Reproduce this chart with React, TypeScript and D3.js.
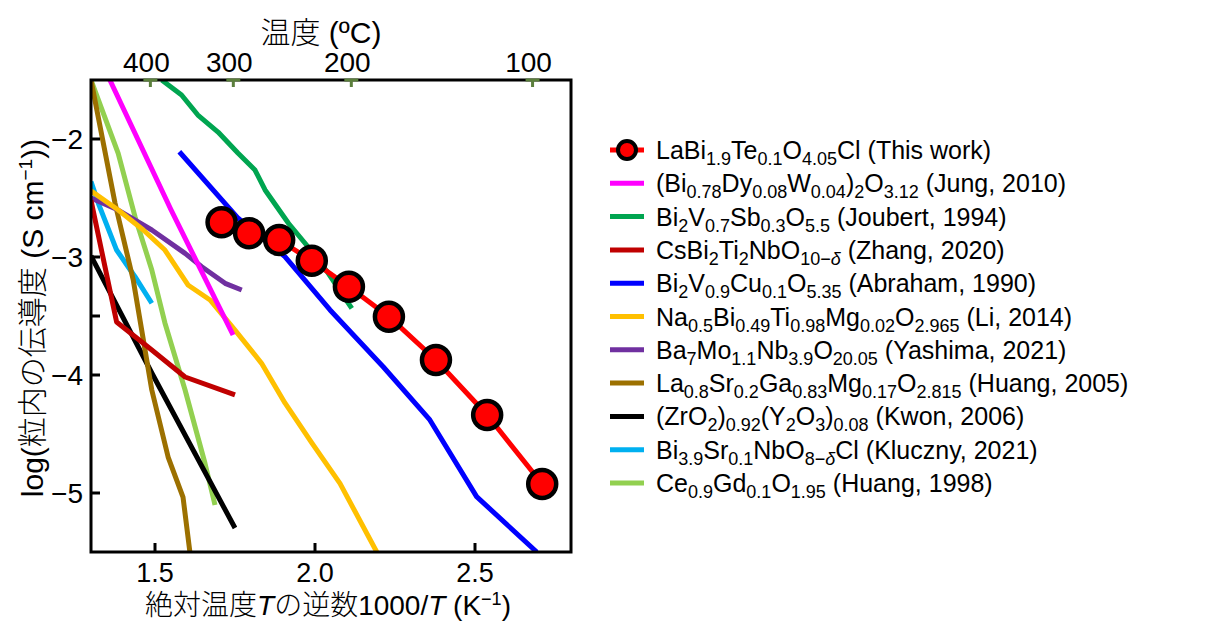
import React from "react";
import * as d3 from "d3";

// ---- data (x = 1000/T in K^-1, y = log conductivity) ----
const thisWorkX = [1.708, 1.794, 1.888, 1.990, 2.106, 2.231, 2.378, 2.538, 2.710];
const thisWorkY = [-2.706, -2.799, -2.856, -3.031, -3.252, -3.506, -3.873, -4.339, -4.924];

const jungX = [1.359, 1.55, 1.744];
const jungY = [-1.5, -2.6, -3.661];

const joubertX = [1.521, 1.583, 1.634, 1.697, 1.759, 1.8125, 1.844, 1.917, 1.978, 2.041, 2.115];
const joubertY = [-1.5, -1.627, -1.797, -1.941, -2.119, -2.263, -2.432, -2.714, -2.913, -3.136, -3.435];

const zhangX = [1.3, 1.38, 1.49, 1.594, 1.75];
const zhangY = [-2.52, -3.551, -3.788, -4.017, -4.169];

const abrahamX = [1.576, 1.76, 1.906, 2.047, 2.213, 2.359, 2.505, 2.693];
const abrahamY = [-2.108, -2.672, -2.997, -3.449, -3.93, -4.381, -5.031, -5.5];

const liX = [1.3, 1.385, 1.4635, 1.531, 1.603, 1.672, 1.75, 1.833, 1.906, 1.99, 2.078, 2.193];
const liY = [-2.44, -2.602, -2.771, -2.941, -3.237, -3.364, -3.619, -3.901, -4.237, -4.576, -4.918, -5.5];

const yashimaX = [1.3, 1.385, 1.49, 1.594, 1.646, 1.719, 1.771];
const yashimaY = [-2.5, -2.602, -2.771, -2.969, -3.082, -3.223, -3.28];

const huang2005X = [1.3, 1.375, 1.432, 1.49, 1.541, 1.5875, 1.609];
const huang2005Y = [-1.5, -2.542, -3.195, -4.127, -4.695, -5.034, -5.5];

const kwonX = [1.3, 1.49, 1.75];
const kwonY = [-2.99, -3.983, -5.297];

const kluczynyX = [1.3, 1.323, 1.38, 1.4375, 1.49];
const kluczynyY = [-2.36, -2.545, -2.941, -3.167, -3.392];

const huang1998X = [1.3, 1.385, 1.4375, 1.49, 1.531, 1.594, 1.656, 1.6875];
const huang1998Y = [-1.5, -2.121, -2.658, -3.11, -3.559, -4.127, -4.746, -5.102];

const xTicks = [1.5, 2.0, 2.5];
const xTickLabels = ["1.5", "2.0", "2.5"];
const yTicks = [-2, -3, -3.5, -4, -5];
const yTickLabels = ["−2", "−3", "", "−4", "−5"];
const topTemps = [400, 300, 200, 100];

// label segments: [text, kind] kind: n normal, s subscript, si italic subscript
type Seg = [string, string];
const labelThis: Seg[] = [["LaBi", "n"], ["1.9", "s"], ["Te", "n"], ["0.1", "s"], ["O", "n"], ["4.05", "s"], ["Cl (This work)", "n"]];
const labelJung: Seg[] = [["(Bi", "n"], ["0.78", "s"], ["Dy", "n"], ["0.08", "s"], ["W", "n"], ["0.04", "s"], [")", "n"], ["2", "s"], ["O", "n"], ["3.12", "s"], [" (Jung, 2010)", "n"]];
const labelJoubert: Seg[] = [["Bi", "n"], ["2", "s"], ["V", "n"], ["0.7", "s"], ["Sb", "n"], ["0.3", "s"], ["O", "n"], ["5.5", "s"], [" (Joubert, 1994)", "n"]];
const labelZhang: Seg[] = [["CsBi", "n"], ["2", "s"], ["Ti", "n"], ["2", "s"], ["NbO", "n"], ["10−", "s"], ["δ", "si"], [" (Zhang, 2020)", "n"]];
const labelAbraham: Seg[] = [["Bi", "n"], ["2", "s"], ["V", "n"], ["0.9", "s"], ["Cu", "n"], ["0.1", "s"], ["O", "n"], ["5.35", "s"], [" (Abraham, 1990)", "n"]];
const labelLi: Seg[] = [["Na", "n"], ["0.5", "s"], ["Bi", "n"], ["0.49", "s"], ["Ti", "n"], ["0.98", "s"], ["Mg", "n"], ["0.02", "s"], ["O", "n"], ["2.965", "s"], [" (Li, 2014)", "n"]];
const labelYashima: Seg[] = [["Ba", "n"], ["7", "s"], ["Mo", "n"], ["1.1", "s"], ["Nb", "n"], ["3.9", "s"], ["O", "n"], ["20.05", "s"], [" (Yashima, 2021)", "n"]];
const labelHuang2005: Seg[] = [["La", "n"], ["0.8", "s"], ["Sr", "n"], ["0.2", "s"], ["Ga", "n"], ["0.83", "s"], ["Mg", "n"], ["0.17", "s"], ["O", "n"], ["2.815", "s"], [" (Huang, 2005)", "n"]];
const labelKwon: Seg[] = [["(ZrO", "n"], ["2", "s"], [")", "n"], ["0.92", "s"], ["(Y", "n"], ["2", "s"], ["O", "n"], ["3", "s"], [")", "n"], ["0.08", "s"], [" (Kwon, 2006)", "n"]];
const labelKluczny: Seg[] = [["Bi", "n"], ["3.9", "s"], ["Sr", "n"], ["0.1", "s"], ["NbO", "n"], ["8−", "s"], ["δ", "si"], ["Cl (Kluczny, 2021)", "n"]];
const labelHuang1998: Seg[] = [["Ce", "n"], ["0.9", "s"], ["Gd", "n"], ["0.1", "s"], ["O", "n"], ["1.95", "s"], [" (Huang, 1998)", "n"]];

const series = [
  { xs: thisWorkX, ys: thisWorkY, color: "#ff0000", label: labelThis, marker: true },
  { xs: jungX, ys: jungY, color: "#ff00ff", label: labelJung, marker: false },
  { xs: joubertX, ys: joubertY, color: "#00a550", label: labelJoubert, marker: false },
  { xs: zhangX, ys: zhangY, color: "#c00000", label: labelZhang, marker: false },
  { xs: abrahamX, ys: abrahamY, color: "#0000ff", label: labelAbraham, marker: false },
  { xs: liX, ys: liY, color: "#ffc000", label: labelLi, marker: false },
  { xs: yashimaX, ys: yashimaY, color: "#7030a0", label: labelYashima, marker: false },
  { xs: huang2005X, ys: huang2005Y, color: "#9c7000", label: labelHuang2005, marker: false },
  { xs: kwonX, ys: kwonY, color: "#000000", label: labelKwon, marker: false },
  { xs: kluczynyX, ys: kluczynyY, color: "#00b0f0", label: labelKluczny, marker: false },
  { xs: huang1998X, ys: huang1998Y, color: "#92d050", label: labelHuang1998, marker: false },
];

const FONT = "'Liberation Sans', Arial, 'Noto Sans CJK JP', sans-serif";
const JFONT = "'Liberation Sans', 'Noto Sans CJK JP', sans-serif";

export default function App() {
  const x = d3.scaleLinear().domain([1.3, 2.8]).range([91, 571]);
  const y = d3.scaleLinear().domain([-5.5, -1.5]).range([552, 80]);
  const line = d3.line<[number, number]>().x((d) => x(d[0])).y((d) => y(d[1]));

  const renderLabel = (segs: Seg[]) =>
    segs.map((s, i) => {
      const sub = s[1] !== "n";
      return (
        <tspan
          key={i}
          fontSize={sub ? 18 : 25}
          baselineShift={sub ? "-6" : undefined}
          fontStyle={s[1] === "si" ? "italic" : undefined}
        >
          {s[0]}
        </tspan>
      );
    });

  const legendY0 = 150;
  const legendDy = 33.3;

  const [bx0, bx1] = x.range();
  const [by0, by1] = [y(-1.5), y(-5.5)];

  return (
    <div style={{ position: "absolute", left: 0, top: 0 }}>
      <svg width={1210} height={622} style={{ display: "block", background: "#fff" }} fontFamily={FONT}>
        <defs>
          <clipPath id="plotclip">
            <rect x={bx0} y={by0} width={bx1 - bx0} height={by1 - by0} />
          </clipPath>
        </defs>

        {/* series lines, drawn in reverse so this work is on top */}
        <g clipPath="url(#plotclip)">
          {series
            .slice()
            .reverse()
            .map((s, i) => (
              <path
                key={i}
                d={line(s.xs.map((v, j) => [v, s.ys[j]] as [number, number])) || ""}
                fill="none"
                stroke={s.color}
                strokeWidth={5}
                strokeLinejoin="round"
              />
            ))}
        </g>
        {thisWorkX.map((v, i) => (
          <circle key={i} cx={x(v)} cy={y(thisWorkY[i])} r={14} fill="#ff0000" stroke="#000" strokeWidth={4.5} />
        ))}

        {/* frame */}
        <rect x={bx0} y={by0} width={bx1 - bx0} height={by1 - by0} fill="none" stroke="#000" strokeWidth={3} />

        {/* bottom ticks */}
        {xTicks.map((t, i) => (
          <g key={i}>
            <line x1={x(t)} x2={x(t)} y1={by1} y2={by1 - 9} stroke="#000" strokeWidth={3} />
            <text x={x(t)} y={582} textAnchor="middle" fontSize={27}>
              {xTickLabels[i]}
            </text>
          </g>
        ))}
        {/* left ticks */}
        {yTicks.map((t, i) => (
          <g key={i}>
            <line x1={bx0} x2={bx0 + 9} y1={y(t)} y2={y(t)} stroke="#000" strokeWidth={3} />
            {yTickLabels[i] && (
              <text x={83} y={y(t) + 10} textAnchor="end" fontSize={28}>
                {yTickLabels[i]}
              </text>
            )}
          </g>
        ))}
        {/* top temperature ticks */}
        {topTemps.map((t, i) => {
          const px = x(1000 / (t + 273.15));
          return (
            <g key={i}>
              <line x1={px - 7} x2={px + 7} y1={by0} y2={by0} stroke="#5b7f3c" strokeWidth={3} />
              <line x1={px} x2={px} y1={by0} y2={by0 + 7} stroke="#5b7f3c" strokeWidth={3} />
              <text x={px - 4} y={72} textAnchor="middle" fontSize={28}>
                {t}
              </text>
            </g>
          );
        })}

        {/* axis titles */}
        <text x={321} y={43} textAnchor="middle" fontSize={30} fontFamily={JFONT} fontWeight={300}>
          温度 (ºC)
        </text>
        <text x={328} y={615} textAnchor="middle" fontSize={28} fontFamily={JFONT} fontWeight={300}>
          絶対温度<tspan fontStyle="italic">T</tspan>の逆数1000/<tspan fontStyle="italic">T</tspan> (K
          <tspan fontSize={18} baselineShift="10">−1</tspan>)
        </text>
        <text
          transform="translate(43,318) rotate(-90)"
          textAnchor="middle"
          fontSize={30}
          fontFamily={JFONT}
          fontWeight={300}
        >
          log(粒内の伝導度 (S cm<tspan fontSize={19} baselineShift="11">−1</tspan>))
        </text>

        {/* legend */}
        {series.map((s, i) => {
          const cy = legendY0 + i * legendDy;
          return (
            <g key={i}>
              <line x1={610} x2={644} y1={cy} y2={cy} stroke={s.color} strokeWidth={5} />
              {s.marker && <circle cx={627} cy={cy} r={9} fill="#ff0000" stroke="#000" strokeWidth={4} />}
              <text x={656} y={cy + 9} fontSize={25}>
                {renderLabel(s.label)}
              </text>
            </g>
          );
        })}
      </svg>
    </div>
  );
}
